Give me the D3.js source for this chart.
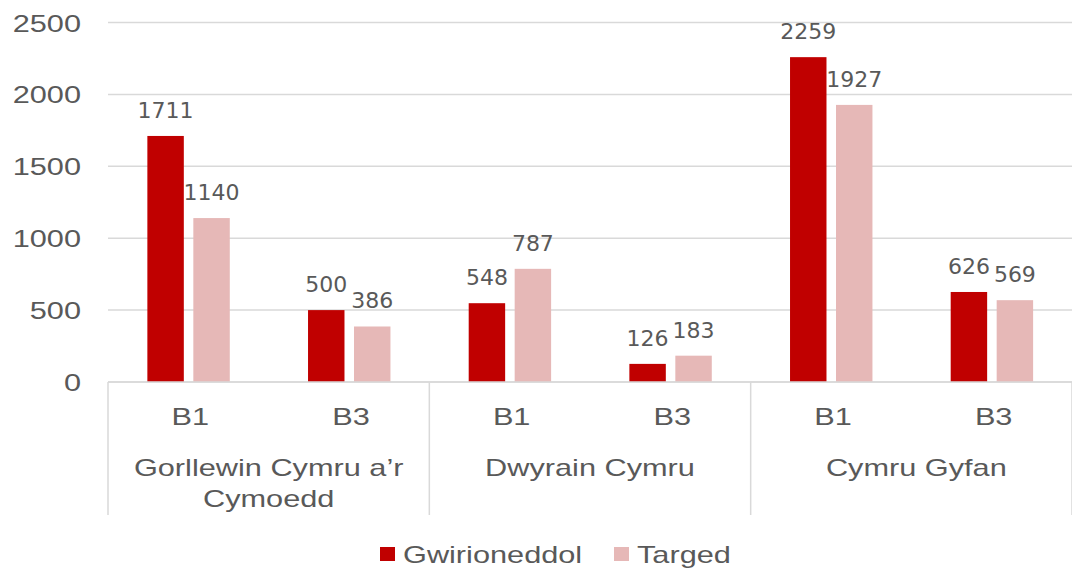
<!DOCTYPE html>
<html>
<head>
<meta charset="utf-8">
<script src="https://cdn.jsdelivr.net/npm/d3@7"></script>
<style>
  html, body { margin: 0; padding: 0; background: #fff; }
  svg { display: block; }
</style>
</head>
<body>
<div id="chart"></div>
<script>
// Chart data
var groups      = ['Gorllewin Cymru a\u2019r|Cymoedd', 'Dwyrain Cymru', 'Cymru Gyfan'];
var levels      = ['B1', 'B3'];
var seriesNames = ['Gwirioneddol', 'Targed'];
var actual      = [1711, 500, 548, 126, 2259, 626];
var target      = [1140, 386, 787, 183, 1927, 569];
var yTicks      = [0, 500, 1000, 1500, 2000, 2500];

var W = 1072, H = 569;
var colors = ['#C00000', '#E6B8B7'];
var textCol = '#595959';
var gridCol = '#D9D9D9';
var STRETCH = 1.28; // the Arial-ish text in the picture is drawn wide

var svg = d3.select('#chart').append('svg')
    .attr('width', W).attr('height', H);

// one row per bar position
var rows = [];
groups.forEach(function (g, gi) {
    levels.forEach(function (l, li) {
        var i = gi * levels.length + li;
        rows.push({ key: g + '-' + l, group: g, level: l, values: [actual[i], target[i]] });
    });
});

var x0 = d3.scaleBand().domain(rows.map(function (d) { return d.key; }))
    .range([108, 1072]).padding(0);
var cw = x0.bandwidth();
var x1 = d3.scaleBand().domain(seriesNames)
    .range([cw * 0.245, cw * 0.758]).paddingInner(0.207).paddingOuter(0);
var y = d3.scaleLinear().domain([0, 2500]).range([382, 22.5]);

// stretched text helper
function wideText(sel, x, yy, anchor, str, size) {
    return sel.append('text')
        .attr('transform', 'translate(' + x + ',' + yy + ') scale(' + STRETCH + ',1)')
        .attr('text-anchor', anchor)
        .attr('font-family', '"Liberation Sans", Arial, sans-serif')
        .attr('font-size', size)
        .attr('fill', textCol)
        .text(str);
}

// gridlines + y labels
var yAxis = svg.append('g').attr('class', 'y-axis');
yTicks.forEach(function (t) {
    yAxis.append('line')
        .attr('x1', 108).attr('x2', 1072)
        .attr('y1', y(t)).attr('y2', y(t))
        .attr('stroke', gridCol).attr('stroke-width', 1.5);
    wideText(yAxis, 81, y(t) + 9, 'end', d3.format('d')(t), 24);
});

// category axis: separators between groups
var sepX = [108];
groups.forEach(function (g, gi) {
    sepX.push(x0(rows[gi * levels.length + levels.length - 1].key) + cw);
});
svg.selectAll('line.sep').data(sepX).enter().append('line')
    .attr('class', 'sep')
    .attr('x1', function (d) { return d; }).attr('x2', function (d) { return d; })
    .attr('y1', 382).attr('y2', 515)
    .attr('stroke', gridCol).attr('stroke-width', 1.5);

// level labels
rows.forEach(function (d) {
    wideText(svg, x0(d.key) + cw / 2 + 2, 425, 'middle', d.level, 24);
});

// group labels
groups.forEach(function (g, gi) {
    var cx = (sepX[gi] + sepX[gi + 1]) / 2;
    if (gi === groups.length - 1) cx += 5; // last group sits a touch right in the source
    g.split('|').forEach(function (line, li) {
        wideText(svg, cx, 476 + li * 31, 'middle', line, 24);
    });
});

// bars
var cat = svg.selectAll('g.cat').data(rows).enter().append('g')
    .attr('class', 'cat')
    .attr('transform', function (d) { return 'translate(' + x0(d.key) + ',0)'; });

cat.selectAll('rect').data(function (d) {
    return d.values.map(function (v, i) { return { s: seriesNames[i], v: v, i: i }; });
}).enter().append('rect')
    .attr('x', function (d) { return x1(d.s); })
    .attr('width', x1.bandwidth())
    .attr('y', function (d) { return y(d.v); })
    .attr('height', function (d) { return y(0) - y(d.v); })
    .attr('fill', function (d) { return colors[d.i]; });

// data labels
cat.selectAll('text.val').data(function (d) {
    return d.values.map(function (v, i) { return { s: seriesNames[i], v: v, i: i }; });
}).enter().append('text')
    .attr('class', 'val')
    .attr('x', function (d) { return x1(d.s) + x1.bandwidth() / 2; })
    .attr('y', function (d) { return y(d.v) - 18; })
    .attr('text-anchor', 'middle')
    .attr('font-family', '"DejaVu Sans", sans-serif')
    .attr('font-size', 22)
    .attr('fill', textCol)
    .text(function (d) { return d.v; });

// redraw the baseline on top of bar bottoms
svg.append('line')
    .attr('x1', 108).attr('x2', 1072).attr('y1', y(0)).attr('y2', y(0))
    .attr('stroke', gridCol).attr('stroke-width', 1.5);

// legend
var legend = svg.append('g').attr('class', 'legend');
var legX = [380, 614];
seriesNames.forEach(function (s, i) {
    legend.append('rect')
        .attr('x', legX[i]).attr('y', 547)
        .attr('width', 15).attr('height', 14)
        .attr('fill', colors[i]);
    wideText(legend, legX[i] + 23, 563, 'start', s, 24);
});
</script>
</body>
</html>
